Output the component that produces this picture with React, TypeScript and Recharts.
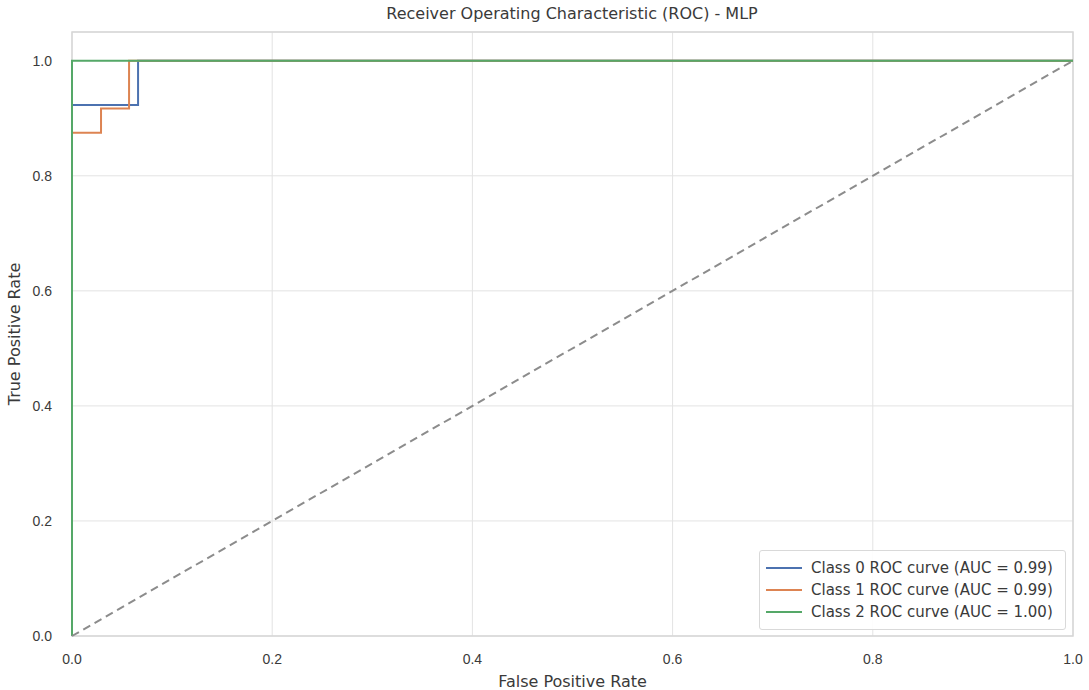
import { CartesianGrid, Line, LineChart, ReferenceArea, XAxis, YAxis } from 'recharts';

// ROC step points (fpr, tpr)
const class0Fpr = [0, 0, 0.066, 0.066, 1];
const class0Tpr = [0, 0.923, 0.923, 1, 1];
const class1Fpr = [0, 0, 0.029, 0.029, 0.057, 0.057, 1];
const class1Tpr = [0, 0.875, 0.875, 0.917, 0.917, 1, 1];
const class2Fpr = [0, 0, 1];
const class2Tpr = [0, 1, 1];
const chanceFpr = [0, 1];
const chanceTpr = [0, 1];

const seriesNames = [
  'Class 0 ROC curve (AUC = 0.99)',
  'Class 1 ROC curve (AUC = 0.99)',
  'Class 2 ROC curve (AUC = 1.00)',
];
const xTicks = [0, 0.2, 0.4, 0.6, 0.8, 1.0];
const yTicks = [0, 0.2, 0.4, 0.6, 0.8, 1.0];

const COLORS = ['#4c72b0', '#dd8452', '#55a868'];
const FONT = '"DejaVu Sans", Verdana, sans-serif';
const TICK_FONT = '"Liberation Sans", Arial, sans-serif';

const zip = (xs: number[], ys: number[]) => xs.map((x, i) => ({ x, y: ys[i] }));

const curves = [zip(class0Fpr, class0Tpr), zip(class1Fpr, class1Tpr), zip(class2Fpr, class2Tpr)];

const tick = { fill: '#3a3a3a', fontSize: 14, fontFamily: TICK_FONT };

// drawn as an overlay so it doesn't eat into the plot area
function RocLegend() {
  return (
    <div
      style={{
        position: 'absolute',
        left: 759,
        top: 550,
        width: 307,
        boxSizing: 'border-box',
        border: '1px solid #d9d9d9',
        background: 'rgba(255,255,255,0.9)',
        padding: '6px 6px 6px 6px',
        fontFamily: FONT,
        fontSize: 15,
        color: '#3a3a3a',
        borderRadius: 3,
      }}
    >
      {seriesNames.map((name, i) => (
        <div key={name} style={{ display: 'flex', alignItems: 'center', height: 22 }}>
          <span style={{ width: 36, height: 2, background: COLORS[i], marginRight: 9, flex: 'none' }} />
          <span style={{ whiteSpace: 'nowrap' }}>{name}</span>
        </div>
      ))}
    </div>
  );
}

export default function App() {
  return (
    <div style={{ position: 'absolute', left: 0, top: 0, width: 1089, height: 690, background: '#fff' }}>
      <LineChart width={1089} height={690} margin={{ top: 32, right: 16, bottom: 0, left: 0 }}>
        <text x={572} y={19} textAnchor="middle" fontSize={16} fontFamily={FONT} fill="#3a3a3a">
          Receiver Operating Characteristic (ROC) - MLP
        </text>
        <CartesianGrid stroke="#e3e3e3" strokeWidth={1} />
        <XAxis
          type="number"
          dataKey="x"
          domain={[0, 1]}
          ticks={xTicks}
          tickFormatter={(v: number) => v.toFixed(1)}
          tick={tick}
          tickLine={false}
          axisLine={false}
          tickMargin={12}
          height={54}
          allowDuplicatedCategory={false}
          label={{ value: 'False Positive Rate', position: 'insideBottom', offset: 3, fill: '#3a3a3a', fontSize: 16, fontFamily: FONT }}
        />
        <YAxis
          type="number"
          dataKey="y"
          domain={[0, 1.05]}
          ticks={yTicks}
          tickFormatter={(v: number) => v.toFixed(1)}
          tick={tick}
          tickLine={false}
          axisLine={false}
          tickMargin={14}
          width={72}
          label={{ value: 'True Positive Rate', angle: -90, position: 'insideLeft', offset: 14, fill: '#3a3a3a', fontSize: 16, fontFamily: FONT, style: { textAnchor: 'middle' } }}
        />
        <ReferenceArea x1={0} x2={1} y1={0} y2={1.05} fill="none" stroke="#d6d6d6" strokeWidth={1.5} ifOverflow="visible" />
        {curves.map((data, i) => (
          <Line
            key={seriesNames[i]}
            data={data}
            dataKey="y"
            name={seriesNames[i]}
            type="linear"
            stroke={COLORS[i]}
            strokeWidth={2}
            dot={false}
            activeDot={false}
            isAnimationActive={false}
          />
        ))}
        <Line
          data={zip(chanceFpr, chanceTpr)}
          dataKey="y"
          name="chance"
          legendType="none"
          type="linear"
          stroke="#8c8c8c"
          strokeWidth={2}
          strokeDasharray="8 5"
          dot={false}
          activeDot={false}
          isAnimationActive={false}
        />
      </LineChart>
      <RocLegend />
    </div>
  );
}
